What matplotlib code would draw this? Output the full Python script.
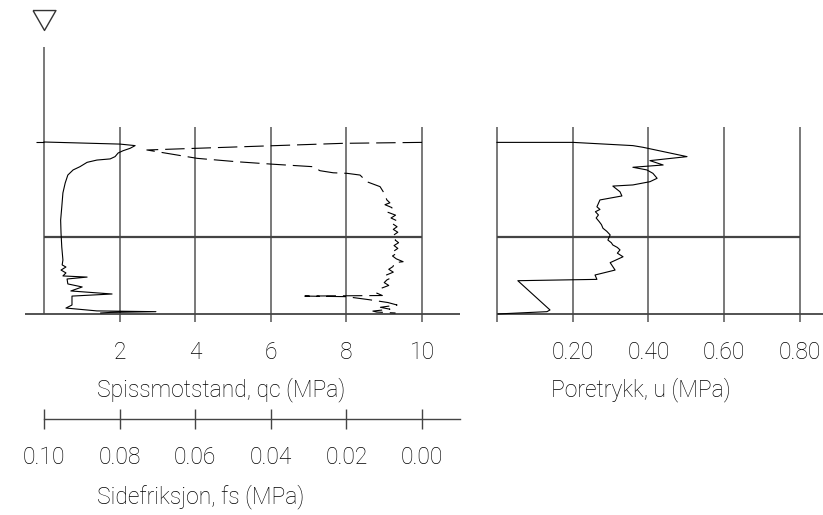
"""CPT sounding: cone resistance, side friction and pore pressure vs depth."""

import matplotlib
matplotlib.use('Agg')
import matplotlib.pyplot as plt

plt.rcParams['font.family'] = ['Roboto', 'DejaVu Sans']
plt.rcParams['font.weight'] = 'light'
plt.rcParams['lines.scale_dashes'] = False

# cone resistance qc (MPa) vs depth (m)
qc_depth = [5.00, 5.11, 5.19, 5.33, 5.46, 5.58, 5.77, 5.89, 5.95, 6.07, 6.30, 6.47, 6.74,
            7.16, 7.68, 8.42, 9.11, 9.79, 10.53, 11.21, 11.47, 11.58, 11.74, 11.89, 12.05,
            12.11, 12.21, 12.47, 12.63, 12.84, 13.00, 13.11, 13.58, 13.74, 13.89, 13.93,
            13.97, 14.00]
qc = [0.00, 2.01, 2.41, 2.28, 2.09, 1.96, 1.88, 1.75, 1.40, 1.14, 0.95, 0.77, 0.63,
      0.56, 0.50, 0.47, 0.44, 0.45, 0.47, 0.50, 0.48, 0.58, 0.45, 0.58, 0.50,
      1.14, 0.61, 0.63, 1.01, 0.71, 1.80, 0.74, 0.74, 0.58, 1.40, 2.96,
      1.75, 1.50]

# side friction fs (MPa) vs depth (m)
fs_depth = [5.02, 5.07, 5.42, 5.86, 6.04, 6.17, 6.30, 6.51, 6.62, 6.65, 6.74, 7.09, 7.35,
            7.70, 8.05, 8.20, 8.30, 8.45, 8.58, 8.70, 8.85, 9.00, 9.15, 9.30, 9.46, 9.60,
            9.75, 9.90, 10.05, 10.16, 10.30, 10.45, 10.60, 10.75, 10.84, 11.00, 11.15,
            11.30, 11.35, 11.56, 11.70, 11.85, 12.00, 12.15, 12.26, 12.40, 12.55, 12.70,
            12.79, 12.95, 13.08, 13.11, 13.14, 13.30, 13.45, 13.58, 13.70, 13.80, 13.90,
            13.95, 14.00]
fs = [0.0000, 0.0209, 0.0728, 0.0595, 0.0489, 0.0394, 0.0288, 0.0270, 0.0235, 0.0198,
      0.0164, 0.0146, 0.0111, 0.0100, 0.0093, 0.0085, 0.0098, 0.0080, 0.0077, 0.0090,
      0.0070, 0.0082, 0.0066, 0.0078, 0.0066, 0.0076, 0.0064, 0.0075, 0.0066, 0.0071,
      0.0062, 0.0074, 0.0064, 0.0075, 0.0066, 0.0078, 0.0068, 0.0050, 0.0072, 0.0077,
      0.0088, 0.0076, 0.0094, 0.0082, 0.0093, 0.0100, 0.0088, 0.0108, 0.0111, 0.0120,
      0.0105, 0.0310, 0.0200, 0.0140, 0.0090, 0.0066, 0.0110, 0.0085, 0.0130, 0.0120,
      0.0070]

# pore pressure u (MPa) vs depth (m)
u_depth = [5.02, 5.02, 5.19, 5.28, 5.77, 5.98, 6.21, 6.33, 6.47, 6.65, 6.91, 7.09, 7.26,
           7.32, 7.62, 7.84, 8.05, 8.41, 8.55, 8.67, 8.84, 9.00, 9.19, 9.35, 9.54, 9.70,
           9.89, 10.16, 10.30, 10.42, 10.55, 10.68, 10.85, 11.04, 11.35, 11.56, 11.74,
           12.00, 12.23, 12.30, 12.88, 13.84, 13.93, 14.05]
u = [0.000, 0.201, 0.359, 0.386, 0.502, 0.404, 0.439, 0.359, 0.396, 0.412, 0.423, 0.404,
     0.359, 0.306, 0.325, 0.330, 0.272, 0.264, 0.272, 0.260, 0.268, 0.262, 0.270, 0.276,
     0.280, 0.290, 0.299, 0.293, 0.302, 0.306, 0.318, 0.325, 0.318, 0.333, 0.299, 0.306,
     0.312, 0.259, 0.264, 0.055, 0.087, 0.140, 0.132, 0.003]

qc_ticks = [2, 4, 6, 8, 10]
fs_ticks = [0.10, 0.08, 0.06, 0.04, 0.02, 0.00]
u_ticks = [0.20, 0.40, 0.60, 0.80]

GRID = '#555555'
FS = 16.5
W, H = 823, 515


def frame(x0, x1, y0, y1):
    # figure rect from pixel box (image coords, y down)
    return [x0 / W, 1 - y1 / H, (x1 - x0) / W, (y1 - y0) / H]


fig = plt.figure(figsize=(8.23, 5.15), dpi=100)

# ── Left panel: qc (solid) and fs (dashed, reversed axis) ──

ax1 = fig.add_axes(frame(25, 460, 0, 330))
ax1.set_xlim(-0.503, 11.005)
ax1.set_ylim(14.895, -2.474)
for s in ax1.spines.values():
    s.set_visible(False)
ax1.set_yticks([])
ax1.set_xticks(qc_ticks)
ax1.set_xticklabels([str(t) for t in qc_ticks], fontsize=FS)
ax1.tick_params(axis='x', length=0, pad=8)

ax1.vlines(qc_ticks, 4.21, 14.47, color=GRID, lw=1.1)
ax1.vlines(0, 0.0, 14.05, color=GRID, lw=1.1)
ax1.hlines(10.0, 0, 10, color='#444444', lw=1.6)
ax1.hlines(14.05, -0.503, 11.005, color='#444444', lw=1.3)
ax1.hlines(5.0, -0.21, 0, color='black', lw=0.8)
ax1.plot([0], [-1.42], marker=[(-1.15, 1), (1.15, 1), (0, -1), (-1.15, 1)], ms=16.5,
         mfc='none', mec='#333333', mew=1.0, ls='none', clip_on=False)

ax1.plot(qc, qc_depth, color='black', lw=0.8)

ax1f = ax1.twiny()
ax1f.set_xlim(0.10503, -0.01005)
ax1f.axis('off')
ax1f.plot(fs, fs_depth, color='black', lw=0.8, dashes=(14, 5))

ax1.text(1.4, 18.05, 'Spissmotstand, qc (MPa)', fontsize=FS, ha='left', va='center')

# separate fs axis below
axf = fig.add_axes(frame(44, 460, 409, 419))
axf.set_xlim(0.10, -0.01005)
axf.set_yticks([])
for k in ('top', 'left', 'right'):
    axf.spines[k].set_visible(False)
axf.patch.set_visible(False)
axf.spines['bottom'].set_color('#444444')
axf.spines['bottom'].set_linewidth(1.0)
axf.set_xticks(fs_ticks)
axf.set_xticklabels([f'{t:.2f}' for t in fs_ticks], fontsize=FS)
axf.tick_params(axis='x', direction='inout', length=14.4, width=1.0, color='#444444', pad=12)
fig.text(97 / W, 1 - 497 / H, 'Sidefriksjon, fs (MPa)', fontsize=FS, ha='left', va='center')

# ── Right panel: pore pressure ──

ax2 = fig.add_axes(frame(480, 823, 0, 330))
ax2.set_xlim(-0.0449, 0.8613)
ax2.set_ylim(14.895, -2.474)
for s in ax2.spines.values():
    s.set_visible(False)
ax2.set_yticks([])
ax2.set_xticks(u_ticks)
ax2.set_xticklabels([f'{t:.2f}' for t in u_ticks], fontsize=FS)
ax2.tick_params(axis='x', length=0, pad=8)

ax2.vlines([0] + u_ticks, 4.21, 14.47, color=GRID, lw=1.1)
ax2.hlines(10.0, 0, 0.8, color='#444444', lw=1.6)
ax2.hlines(14.05, 0, 0.8613, color='#444444', lw=1.3)
ax2.plot(u, u_depth, color='black', lw=0.8)

ax2.text(0.143, 18.05, 'Poretrykk, u (MPa)', fontsize=FS, ha='left', va='center')

plt.savefig('out.png', dpi=100)
print('Saved out.png')
